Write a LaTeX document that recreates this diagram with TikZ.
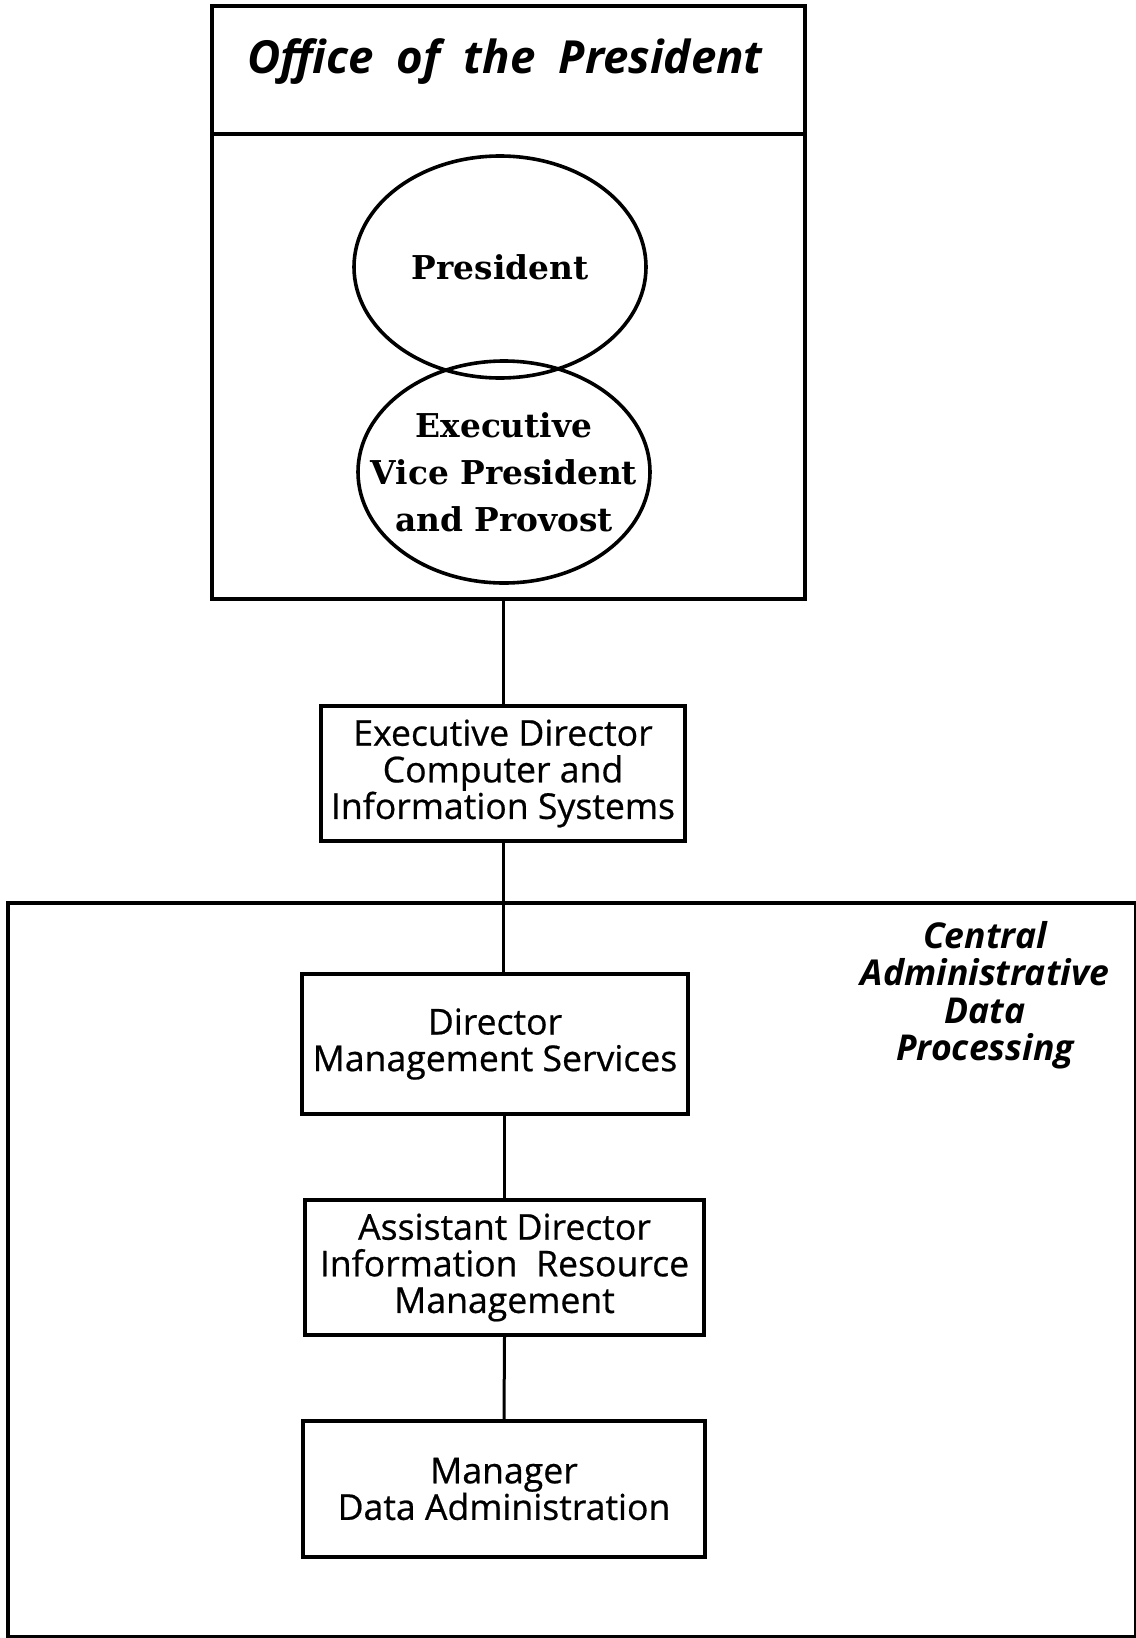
\documentclass[tikz,border=0pt]{standalone}
\usepackage{fontspec}
\setmainfont{DejaVu Serif}
\setsansfont{Open Sans}
\newfontfamily\unitfont{Open Sans}[FakeBold=0.6]
\usetikzlibrary{shapes.geometric,positioning}

\begin{document}
\begin{tikzpicture}[x=0.5pt, y=-0.5pt,
    unit/.style={rectangle, draw, line width=1.9pt, align=center, inner sep=0pt, font=\unitfont\fontsize{17.8}{18.3}\selectfont},
    officer/.style={ellipse, draw, line width=1.8pt, minimum width=146pt, minimum height=111pt},
    officertext/.style={align=center, font=\bfseries\fontsize{16.4}{23.5}\selectfont},
    heading/.style={align=center, font=\sffamily\bfseries\itshape\fontsize{17.8}{18.75}\selectfont},
    link/.style={line width=1.5pt}
]
\useasboundingbox (0,0) rectangle (1135,1638);

% office of the president
\node[rectangle, draw, line width=2pt, minimum width=296.5pt, minimum height=296.5pt] (office) at (508.5,302.5) {};
\node[heading, font=\sffamily\bfseries\itshape\fontsize{22.8}{26}\selectfont] (officetitle) at (505,62)
    {Office\hspace{0.25em} of\hspace{0.25em} the\hspace{0.25em} President};
\draw[line width=1.8pt] (office.west |- 0,134) -- (office.east |- 0,134);

\node[officer] (president) at (500,267) {};
\node[officertext] (presidenttext) at (president) {President};
\node[officer] (evp) at (504,472) {};
\node[officertext] (evptext) at (evp) {Executive\\Vice President\\and Provost};

% central administrative data processing
\node[rectangle, draw, line width=2pt, minimum width=564pt, minimum height=367pt] (cadp) at (572,1270) {};
\node[heading] (cadptitle) at (985,995)
    {Central\\Administrative\\Data\\Processing};

\node[unit, minimum width=182pt, minimum height=67.5pt] (execdir) at (503,773.5)
    {Executive Director\\Computer and\\Information Systems};
\node[unit, minimum width=193pt, minimum height=70pt] (director) at (495,1044)
    {Director\\Management Services};
\node[unit, minimum width=199.5pt, minimum height=67.5pt] (asstdir) at (504.5,1267.5)
    {Assistant Director\\Information~ Resource\\Management};
\node[unit, minimum width=201pt, minimum height=68pt] (manager) at (504,1489)
    {Manager\\Data Administration};

\draw[link] (execdir.north |- office.south) -- (execdir.north);
\draw[link] (execdir.south) -- (execdir.south |- director.north);
\draw[link] (asstdir.north |- director.south) -- (asstdir.north);
\draw[link] (asstdir.south) -- (manager.north);

\end{tikzpicture}
\end{document}
